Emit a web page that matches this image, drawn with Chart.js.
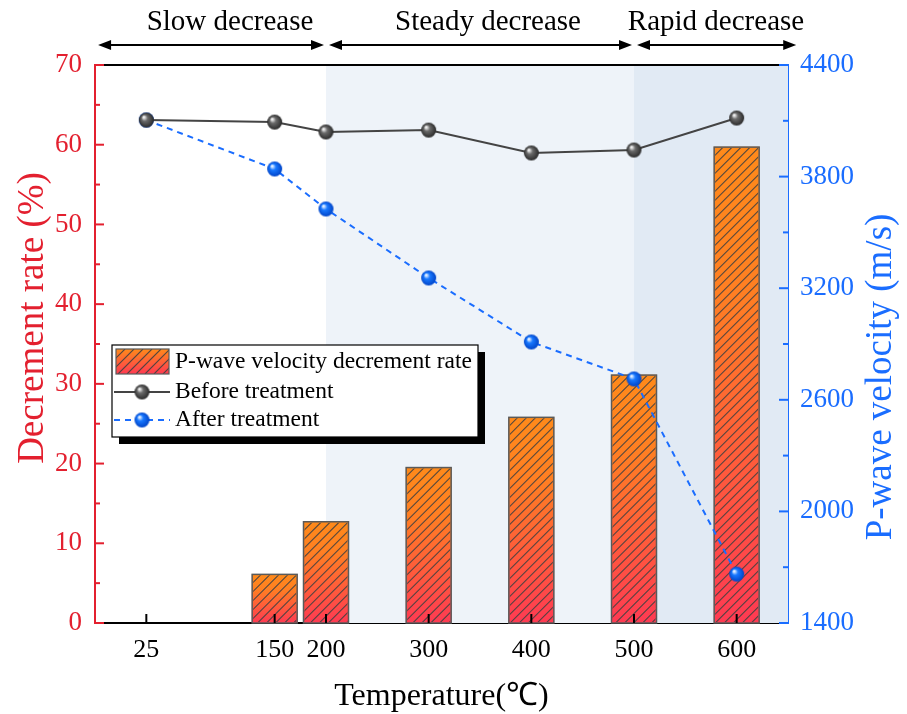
<!DOCTYPE html>
<html>
<head>
<meta charset="utf-8">
<title>P-wave velocity vs temperature</title>
<script src="https://cdn.jsdelivr.net/npm/chart.js@4.4.1/dist/chart.umd.min.js"></script>
<style>
    html, body { margin: 0; padding: 0; background: #fff; }
    #wrap { width: 907px; height: 714px; }
</style>
</head>
<body>
<div id="wrap"><canvas id="chart" width="907" height="714"></canvas></div>
<script>
// Temperatures (°C) and measured values
const temperatures = [25, 150, 200, 300, 400, 500, 600];
const decrementRate = [0, 6.1, 12.7, 19.5, 25.8, 31.1, 59.7];           // %
const velocityBefore = [4104, 4093, 4040, 4050, 3927, 3943, 4115];      // m/s
const velocityAfter = [4104, 3841, 3626, 3255, 2911, 2712, 1663];       // m/s

// Stage bands along the temperature axis
const stageNames = ['Slow decrease', 'Steady decrease', 'Rapid decrease'];
const stageBounds = [-22, 200, 500, 658];

const xTicks = [25, 150, 200, 300, 400, 500, 600];
const leftTicks = [0, 10, 20, 30, 40, 50, 60, 70];
const rightTicks = [1400, 2000, 2600, 3200, 3800, 4400];

const RED = '#e3202f';
const BLUE = '#1a6dff';
const SERIF = '"Liberation Serif", "Times New Roman", serif';

// Shaded sphere used as point marker
function sphere(r, light, mid, dark) {
    const c = document.createElement('canvas');
    c.width = c.height = r * 2 + 2;
    const g = c.getContext('2d');
    const cx = r + 1;
    const grad = g.createRadialGradient(cx - r * 0.35, cx - r * 0.4, r * 0.1, cx, cx, r);
    grad.addColorStop(0, light);
    grad.addColorStop(0.35, mid);
    grad.addColorStop(1, dark);
    g.fillStyle = grad;
    g.beginPath();
    g.arc(cx, cx, r, 0, Math.PI * 2);
    g.fill();
    return c;
}
const graySphere = sphere(7.5, '#f2f2f2', '#6a6a6a', '#2a2a2a');
const blueSphere = sphere(7.5, '#e8f2ff', '#1878ff', '#0044c8');

function barGradient(ctx) {
    const chart = ctx.chart;
    if (!chart.chartArea || !ctx.parsed) return '#ff8a1e';
    const y = chart.scales.y;
    const top = y.getPixelForValue(ctx.parsed.y);
    const base = y.getPixelForValue(0);
    if (base - top < 1) return 'rgba(0,0,0,0)';
    const g = chart.ctx.createLinearGradient(0, top, 0, base);
    g.addColorStop(0, '#ff8a1a');
    g.addColorStop(0.3, '#ff7f22');
    g.addColorStop(1, '#ff3a52');
    return g;
}

// Light blue stage bands behind the data
const bandsPlugin = {
    id: 'bands',
    beforeDatasetsDraw(chart) {
        const { ctx, chartArea: a, scales: { x } } = chart;
        const fills = [null, '#eef3f9', '#e1eaf4'];
        ctx.save();
        for (let i = 0; i < 3; i++) {
            if (!fills[i]) continue;
            const x0 = Math.max(a.left, x.getPixelForValue(stageBounds[i]));
            const x1 = Math.min(a.right, x.getPixelForValue(stageBounds[i + 1]));
            ctx.fillStyle = fills[i];
            ctx.fillRect(x0, a.top, x1 - x0, a.bottom - a.top);
        }
        ctx.restore();
    }
};

// Diagonal hatching over the bars
const hatchPlugin = {
    id: 'hatch',
    afterDatasetDraw(chart, args) {
        if (args.index !== 0) return;
        const ctx = chart.ctx;
        args.meta.data.forEach(bar => {
            const { x, y, base, width } = bar.getProps(['x', 'y', 'base', 'width'], true);
            if (base - y < 1) return;
            const l = x - width / 2, r = x + width / 2;
            ctx.save();
            ctx.beginPath();
            ctx.rect(l + 1, y + 1, width - 2, base - y - 2);
            ctx.clip();
            ctx.strokeStyle = 'rgba(65,65,65,0.9)';
            ctx.lineWidth = 1.1;
            const step = 9;
            ctx.beginPath();
            for (let s = l - (base - y); s < r + step; s += step) {
                ctx.moveTo(s, base);
                ctx.lineTo(s + (base - y), y);
            }
            ctx.stroke();
            ctx.restore();
            ctx.save();
            ctx.strokeStyle = '#5a5a5a';
            ctx.lineWidth = 1.5;
            ctx.strokeRect(l, y, width, base - y);
            ctx.restore();
        });
    }
};

function arrow(ctx, x0, x1, y) {
    const h = 13, w = 5;
    ctx.beginPath();
    ctx.moveTo(x0 + h - 2, y);
    ctx.lineTo(x1 - h + 2, y);
    ctx.stroke();
    ctx.beginPath();
    ctx.moveTo(x0, y); ctx.lineTo(x0 + h, y - w); ctx.lineTo(x0 + h, y + w); ctx.closePath();
    ctx.moveTo(x1, y); ctx.lineTo(x1 - h, y - w); ctx.lineTo(x1 - h, y + w); ctx.closePath();
    ctx.fill();
}

function verticalText(ctx, text, x, y, color, font) {
    ctx.save();
    ctx.translate(x, y);
    ctx.rotate(-Math.PI / 2);
    ctx.fillStyle = color;
    ctx.font = font;
    ctx.textAlign = 'center';
    ctx.textBaseline = 'middle';
    ctx.fillText(text, 0, 0);
    ctx.restore();
}

// Frame, inward ticks, axis titles, stage arrows and legend
const decorPlugin = {
    id: 'decor',
    afterDraw(chart) {
        const { ctx, chartArea: a, scales: { x, y, y1 } } = chart;
        ctx.save();

        // top frame line
        ctx.strokeStyle = '#000';
        ctx.lineWidth = 2;
        ctx.beginPath();
        ctx.moveTo(a.left, a.top);
        ctx.lineTo(a.right - 6, a.top);
        ctx.stroke();
        ctx.strokeStyle = BLUE;
        ctx.beginPath();
        ctx.moveTo(a.right - 6, a.top);
        ctx.lineTo(a.right, a.top);
        ctx.stroke();

        // x ticks (inward)
        ctx.strokeStyle = '#000';
        xTicks.forEach(v => {
            const px = x.getPixelForValue(v);
            ctx.beginPath();
            ctx.moveTo(px, a.bottom);
            ctx.lineTo(px, a.bottom - 9);
            ctx.stroke();
        });

        // left ticks, major and minor
        ctx.strokeStyle = RED;
        for (let v = 0; v <= 70; v += 5) {
            const py = y.getPixelForValue(v);
            const len = v % 10 === 0 ? 9 : 5;
            ctx.beginPath();
            ctx.moveTo(a.left, py);
            ctx.lineTo(a.left + len, py);
            ctx.stroke();
        }

        // right ticks, major and minor
        ctx.strokeStyle = BLUE;
        for (let v = 1400; v <= 4400; v += 300) {
            const py = y1.getPixelForValue(v);
            const len = (v - 1400) % 600 === 0 ? 9 : 5;
            ctx.beginPath();
            ctx.moveTo(a.right, py);
            ctx.lineTo(a.right - len, py);
            ctx.stroke();
        }

        // axis titles
        verticalText(ctx, 'Decrement rate (%)', 33, 318, RED, '37px ' + SERIF);
        verticalText(ctx, 'P-wave velocity (m/s)', 881, 377, BLUE, '37px ' + SERIF);

        // stage labels and arrows above the plot
        ctx.fillStyle = '#000';
        ctx.strokeStyle = '#000';
        ctx.lineWidth = 2;
        ctx.font = '29px ' + SERIF;
        ctx.textAlign = 'center';
        ctx.textBaseline = 'middle';
        const labelX = [230, 488, 716];
        for (let i = 0; i < 3; i++) {
            const x0 = x.getPixelForValue(stageBounds[i]) + (i > 0 ? 3 : 0);
            const x1 = x.getPixelForValue(stageBounds[i + 1]) - (i < 2 ? 2 : 0);
            arrow(ctx, x0, x1, 45);
            ctx.fillText(stageNames[i], labelX[i], 22);
        }

        // legend box with drop shadow
        const lx = 112, ly = 345, lw = 366, lh = 92;
        ctx.fillStyle = '#000';
        ctx.fillRect(lx + 7, ly + 7, lw, lh);
        ctx.fillStyle = '#fff';
        ctx.fillRect(lx, ly, lw, lh);
        ctx.strokeStyle = '#000';
        ctx.lineWidth = 1.2;
        ctx.strokeRect(lx, ly, lw, lh);

        ctx.font = '23.5px ' + SERIF;
        ctx.textAlign = 'left';
        ctx.textBaseline = 'middle';
        const ds = chart.data.datasets;

        // bar swatch
        const sx = 116, sy = 349, sw = 53, sh = 25;
        const sg = ctx.createLinearGradient(0, sy, 0, sy + sh);
        sg.addColorStop(0, '#ff8a1a');
        sg.addColorStop(1, '#ff3a52');
        ctx.fillStyle = sg;
        ctx.fillRect(sx, sy, sw, sh);
        ctx.save();
        ctx.beginPath();
        ctx.rect(sx, sy, sw, sh);
        ctx.clip();
        ctx.strokeStyle = 'rgba(65,65,65,0.9)';
        ctx.lineWidth = 1.1;
        ctx.beginPath();
        for (let s = sx - sh; s < sx + sw + 9; s += 9) {
            ctx.moveTo(s, sy + sh);
            ctx.lineTo(s + sh, sy);
        }
        ctx.stroke();
        ctx.restore();
        ctx.strokeStyle = '#5a5a5a';
        ctx.lineWidth = 1.2;
        ctx.strokeRect(sx, sy, sw, sh);
        ctx.fillStyle = '#000';
        ctx.fillText(ds[0].label, 175, 362);

        // line swatches
        [[1, 392, graySphere], [2, 420, blueSphere]].forEach(([i, yy, img]) => {
            ctx.strokeStyle = ds[i].borderColor;
            ctx.lineWidth = 2;
            ctx.setLineDash(ds[i].borderDash || []);
            ctx.beginPath();
            ctx.moveTo(114, yy);
            ctx.lineTo(170, yy);
            ctx.stroke();
            ctx.setLineDash([]);
            ctx.drawImage(img, 142 - img.width / 2, yy - img.height / 2);
            ctx.fillStyle = '#000';
            ctx.fillText(ds[i].label, 175, yy);
        });

        ctx.restore();
    }
};

const ctx = document.getElementById('chart').getContext('2d');

new Chart(ctx, {
    data: {
        datasets: [
            {
                type: 'bar',
                label: 'P-wave velocity decrement rate',
                data: temperatures.map((t, i) => ({ x: t, y: decrementRate[i] })),
                backgroundColor: barGradient,
                borderWidth: 0,
                barThickness: 45,
                yAxisID: 'y',
                order: 3
            },
            {
                type: 'line',
                label: 'Before treatment',
                data: temperatures.map((t, i) => ({ x: t, y: velocityBefore[i] })),
                borderColor: '#444444',
                borderWidth: 2,
                pointStyle: graySphere,
                yAxisID: 'y1',
                order: 1
            },
            {
                type: 'line',
                label: 'After treatment',
                data: temperatures.map((t, i) => ({ x: t, y: velocityAfter[i] })),
                borderColor: BLUE,
                borderWidth: 2,
                borderDash: [6, 5],
                pointStyle: blueSphere,
                yAxisID: 'y1',
                order: 2
            }
        ]
    },
    options: {
        responsive: false,
        animation: false,
        layout: { padding: { top: 65, left: 0, right: 0, bottom: 0 } },
        plugins: {
            legend: { display: false },
            tooltip: { enabled: false }
        },
        scales: {
            x: {
                type: 'linear',
                min: -25,
                max: 650,
                offset: false,
                afterBuildTicks: scale => { scale.ticks = xTicks.map(v => ({ value: v })); },
                afterFit: scale => { scale.height = 91; },
                grid: { display: false, drawTicks: false, offset: false },
                border: { display: true, color: '#000', width: 2 },
                ticks: {
                    color: '#000',
                    padding: 12,
                    autoSkip: false,
                    maxRotation: 0,
                    callback: v => String(v),
                    font: { family: SERIF, size: 26 }
                },
                title: {
                    display: true,
                    text: 'Temperature(℃)',
                    color: '#000',
                    font: { family: SERIF, size: 32 },
                    padding: { top: 0, bottom: -2 }
                }
            },
            y: {
                position: 'left',
                min: 0,
                max: 70,
                afterBuildTicks: scale => { scale.ticks = leftTicks.map(v => ({ value: v })); },
                afterFit: scale => { scale.width = 95; },
                grid: { display: false, drawTicks: false },
                border: { display: true, color: RED, width: 2 },
                ticks: {
                    color: RED,
                    padding: 13,
                    callback: v => String(v),
                    font: { family: SERIF, size: 27 }
                }
            },
            y1: {
                position: 'right',
                min: 1400,
                max: 4400,
                afterBuildTicks: scale => { scale.ticks = rightTicks.map(v => ({ value: v })); },
                afterFit: scale => { scale.width = 119; },
                grid: { display: false, drawTicks: false },
                border: { display: true, color: BLUE, width: 2 },
                ticks: {
                    color: BLUE,
                    padding: 12,
                    callback: v => String(v),
                    font: { family: SERIF, size: 27 }
                }
            }
        }
    },
    plugins: [bandsPlugin, hatchPlugin, decorPlugin]
});
</script>
</body>
</html>
